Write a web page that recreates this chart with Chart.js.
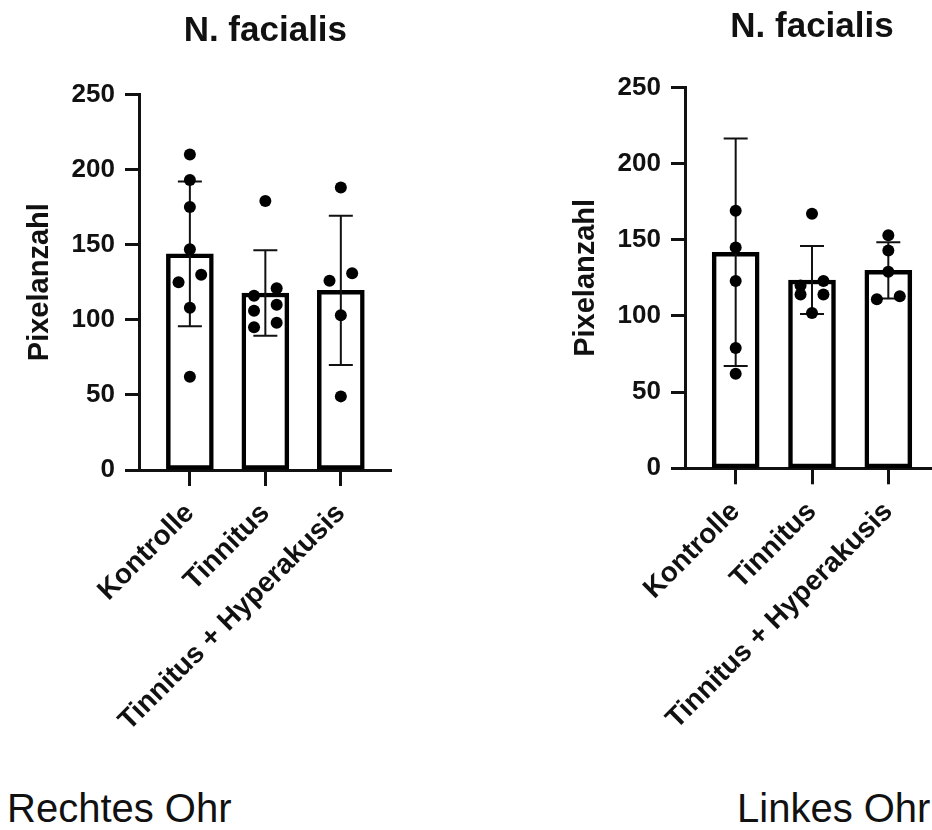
<!DOCTYPE html>
<html lang="de">
<head>
<meta charset="utf-8">
<title>N. facialis – Pixelanzahl</title>
<script src="https://cdn.jsdelivr.net/npm/chart.js@4.4.1/dist/chart.umd.min.js"></script>
<style>
  html, body { margin: 0; padding: 0; background: #fff; overflow: hidden; }
  body { width: 932px; height: 830px; position: relative; font-family: "Liberation Sans", Arial, sans-serif; }
  canvas { position: absolute; top: 0; }
  #rechts { left: 0; }
  #links { left: 500px; }
  .ohr { position: absolute; top: 788px; font-size: 40px; line-height: 40px; color: #111; white-space: nowrap; }
</style>
</head>
<body>
<canvas id="rechts" width="466" height="760"></canvas>
<canvas id="links" width="460" height="760"></canvas>
<div class="ohr" style="left:7px">Rechtes Ohr</div>
<div class="ohr" style="left:737px">Linkes Ohr</div>
<script>
const categories = ['Kontrolle', 'Tinnitus', 'Tinnitus + Hyperakusis'];
const yTicks = [0, 50, 100, 150, 200, 250];

// Rechtes Ohr: Mittelwert, SD und Einzelwerte je Gruppe
const rechtsMean = [143.8, 117.8, 119.6];
const rechtsSD = [48.2, 28.5, 49.7];
const rechtsKontrolle = [210, 193, 175, 147, 130, 125, 108, 62];
const rechtsTinnitus = [179, 121, 116, 110, 106, 98, 95];
const rechtsHyper = [188, 131, 126, 103, 49];

// Linkes Ohr
const linksMean = [141.8, 123.6, 129.9];
const linksSD = [74.6, 22.3, 18.5];
const linksKontrolle = [169, 145, 123, 79, 62];
const linksTinnitus = [167, 123, 120, 114, 114, 102];
const linksHyper = [153, 143, 129, 113, 111];

Chart.defaults.font.family = "'Liberation Sans', Arial, sans-serif";
Chart.defaults.color = '#111';

// places points with similar values side by side, like a small beeswarm
function spread(values, step) {
  const sorted = values.slice().sort((a, b) => b - a);
  const out = [];
  let row = [];
  const flush = () => {
    row.forEach((v, k) => out.push({ v, dx: ((row.length - 1) / 2 - k) * step }));
    row = [];
  };
  sorted.forEach(v => {
    if (row.length && row[0] - v > 7) flush();
    row.push(v);
  });
  flush();
  return out;
}

const errorBars = {
  id: 'errorBars',
  afterDatasetDraw(chart, args, opts) {
    if (args.meta.type !== 'bar') return;
    const { ctx, scales: { y } } = chart;
    ctx.save();
    ctx.strokeStyle = '#111';
    ctx.lineWidth = 2;
    args.meta.data.forEach((bar, i) => {
      const m = chart.data.datasets[args.index].data[i].y;
      const top = y.getPixelForValue(m + opts.sd[i]);
      const bottom = y.getPixelForValue(m - opts.sd[i]);
      ctx.beginPath();
      ctx.moveTo(bar.x, top);
      ctx.lineTo(bar.x, bottom);
      ctx.moveTo(bar.x - 12, top);
      ctx.lineTo(bar.x + 12, top);
      ctx.moveTo(bar.x - 12, bottom);
      ctx.lineTo(bar.x + 12, bottom);
      ctx.stroke();
    });
    ctx.restore();
  }
};

function buildChart(id, means, sds, groups, f) {
  const points = [];
  groups.forEach((g, i) => spread(g, 0.3).forEach(p => points.push({ x: i + p.dx, y: p.v })));

  return new Chart(document.getElementById(id), {
    type: 'bar',
    data: {
      datasets: [
        {
          type: 'scatter',
          data: points,
          backgroundColor: '#000',
          borderWidth: 0,
          pointRadius: 6,
          order: 0
        },
        {
          type: 'bar',
          data: means.map((m, i) => ({ x: i, y: m })),
          backgroundColor: '#fff',
          borderColor: '#000',
          borderWidth: 4.5,
          borderSkipped: false,
          barThickness: 47,
          order: 1
        }
      ]
    },
    options: {
      responsive: false,
      animation: false,
      layout: { padding: { left: 0, right: f.padRight, top: 0, bottom: 0 } },
      plugins: {
        legend: { display: false },
        tooltip: { enabled: false },
        title: {
          display: true,
          text: 'N. facialis',
          fullSize: false,
          color: '#111',
          font: { size: 35, weight: 'bold' },
          padding: { top: f.titleTop, bottom: f.titleBottom }
        },
        errorBars: { sd: sds }
      },
      scales: {
        x: {
          type: 'linear',
          min: f.xMin,
          max: f.xMax,
          offset: false,
          afterBuildTicks: s => { s.ticks = categories.map((c, i) => ({ value: i })); },
          afterFit: s => { s.height = f.xHeight; },
          ticks: {
            autoSkip: false,
            minRotation: 45,
            maxRotation: 45,
            padding: 11,
            color: '#111',
            font: { size: 28, weight: 'bold' },
            callback: v => categories[v]
          },
          grid: { offset: false, drawOnChartArea: false, drawTicks: true, tickLength: 16, tickWidth: 3, tickColor: '#111' },
          border: { display: true, width: 3, color: '#111' }
        },
        y: {
          min: 0,
          max: 250,
          afterBuildTicks: s => { s.ticks = yTicks.map(v => ({ value: v })); },
          afterFit: s => { s.width = f.yWidth; },
          ticks: { padding: 10, color: '#111', font: { size: 26, weight: 'bold' } },
          grid: { drawOnChartArea: false, drawTicks: true, tickLength: 14, tickWidth: 3, tickColor: '#111' },
          border: { display: true, width: 3, color: '#111' },
          title: {
            display: true,
            text: 'Pixelanzahl',
            color: '#111',
            font: { size: 29, weight: 'bold' },
            padding: { top: f.yTitlePad, bottom: 0 }
          }
        }
      }
    },
    plugins: [errorBars]
  });
}

buildChart('rechts', rechtsMean, rechtsSD, [rechtsKontrolle, rechtsTinnitus, rechtsHyper], {
  padRight: 74.3, titleTop: 10, titleBottom: 42.4, xHeight: 290, yWidth: 139,
  xMin: -0.674, xMax: 2.674, yTitlePad: 22.6
});

buildChart('links', linksMean, linksSD, [linksKontrolle, linksTinnitus, linksHyper], {
  padRight: 21, titleTop: 6.2, titleBottom: 39.2, xHeight: 291.7, yWidth: 185,
  xMin: -0.664, xMax: 2.664, yTitlePad: 68.1
});
</script>
</body>
</html>
